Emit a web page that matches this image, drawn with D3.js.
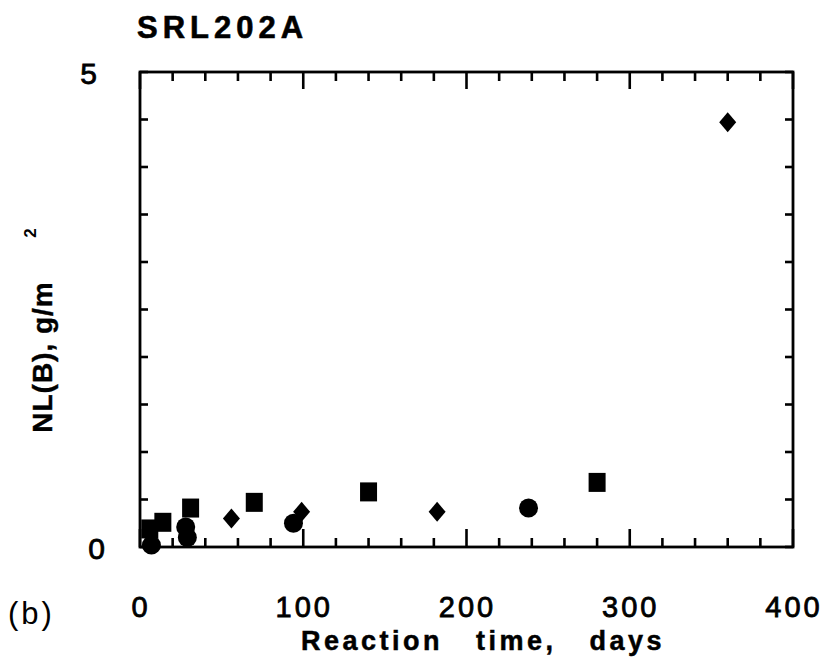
<!DOCTYPE html>
<html>
<head>
<meta charset="utf-8">
<script src="https://cdn.jsdelivr.net/npm/d3@7"></script>
<style>
  html, body { margin: 0; padding: 0; background: #fff; }
  text { font-family: "Liberation Sans", Arial, Helvetica, sans-serif; fill: #000; }
</style>
</head>
<body>
<svg id="chart" width="831" height="661"></svg>
<script>
// ---- data ----
const squareDays   = [6, 14, 31, 70, 140, 280];
const squareValues = [0.19, 0.26, 0.41, 0.47, 0.58, 0.68];
const diamondDays   = [56, 99, 182, 360];
const diamondValues = [0.30, 0.37, 0.37, 4.47];
const circleDays   = [7, 28, 29, 94, 238];
const circleValues = [0.02, 0.21, 0.10, 0.25, 0.41];
const xTickLabels = [0, 100, 200, 300, 400];
const yTickLabels = [0, 5];
const xMinorTicks = d3.range(0, 401, 20);
const yMinorTicks = d3.range(0, 5.01, 0.5);

const svg = d3.select("#chart");
const L = 140, R = 793, T = 72, B = 547;
const x = d3.scaleLinear().domain([0, 400]).range([L, R]);
const y = d3.scaleLinear().domain([0, 5]).range([B, T]);

const g = svg.append("g");

// frame
g.append("rect").attr("x", L).attr("y", T).attr("width", R - L).attr("height", B - T)
  .attr("fill", "none").attr("stroke", "#000").attr("stroke-width", 2.8);

// x ticks (bottom and top, inward)
const isMajorX = d => d % 100 === 0;
g.selectAll(".xb").data(xMinorTicks).join("line")
  .attr("x1", d => x(d)).attr("x2", d => x(d))
  .attr("y1", B).attr("y2", d => B - (isMajorX(d) ? 18 : 9))
  .attr("stroke", "#000").attr("stroke-width", 2.6);
g.selectAll(".xt").data(xMinorTicks).join("line")
  .attr("x1", d => x(d)).attr("x2", d => x(d))
  .attr("y1", T).attr("y2", d => T + (isMajorX(d) ? 17 : 9))
  .attr("stroke", "#000").attr("stroke-width", 2.6);

// y ticks (left and right, inward)
g.selectAll(".yl").data(yMinorTicks).join("line")
  .attr("x1", L).attr("x2", L + 8)
  .attr("y1", d => y(d)).attr("y2", d => y(d))
  .attr("stroke", "#000").attr("stroke-width", 2.6);
g.selectAll(".yr").data(yMinorTicks).join("line")
  .attr("x1", R).attr("x2", R - 8)
  .attr("y1", d => y(d)).attr("y2", d => y(d))
  .attr("stroke", "#000").attr("stroke-width", 2.6);

// tick labels
g.selectAll(".xl").data(xTickLabels).join("text")
  .attr("x", d => x(d) + 1).attr("y", 617)
  .attr("text-anchor", "middle").attr("font-size", 29).attr("letter-spacing", 3)
  .attr("stroke", "#000").attr("stroke-width", 0.8)
  .text(d => d);
g.selectAll(".ylab").data(yTickLabels).join("text")
  .attr("x", d => d === 5 ? 97 : 105).attr("y", d => y(d) + 12)
  .attr("text-anchor", "end").attr("font-size", 30)
  .attr("stroke", "#000").attr("stroke-width", 0.8)
  .text(d => d);

// markers
const ms = 8.5;
g.selectAll(".sq").data(squareDays.map((d, i) => [d, squareValues[i]])).join("rect")
  .attr("x", d => x(d[0]) - ms).attr("y", d => y(d[1]) - ms - 1)
  .attr("width", 2 * ms).attr("height", 2 * ms + 2)
  .attr("fill", "#000");
g.selectAll(".dm").data(diamondDays.map((d, i) => [d, diamondValues[i]])).join("path")
  .attr("d", d => {
    const cx = x(d[0]), cy = y(d[1]);
    return `M${cx},${cy - 10}L${cx + 8.5},${cy}L${cx},${cy + 10}L${cx - 8.5},${cy}Z`;
  })
  .attr("fill", "#000");
g.selectAll(".ci").data(circleDays.map((d, i) => [d, circleValues[i]])).join("circle")
  .attr("cx", d => x(d[0])).attr("cy", d => y(d[1])).attr("r", 9.5)
  .attr("fill", "#000");

// titles
svg.append("text").attr("x", 137).attr("y", 38)
  .attr("font-size", 31).attr("font-weight", "bold").attr("letter-spacing", 5)
  .attr("stroke", "#000").attr("stroke-width", 0.6)
  .text("SRL202A");
svg.append("text").attr("x", 483).attr("y", 650)
  .attr("text-anchor", "middle").attr("font-size", 27).attr("font-weight", "bold")
  .attr("letter-spacing", 3.5).attr("word-spacing", 22)
  .attr("stroke", "#000").attr("stroke-width", 0.5)
  .text("Reaction time, days");
svg.append("text").attr("x", 8).attr("y", 624)
  .attr("font-size", 31).attr("letter-spacing", 3)
  .text("(b)");
svg.append("text").attr("transform", "translate(52,357) rotate(-90)")
  .attr("text-anchor", "middle").attr("font-size", 28).attr("font-weight", "bold")
  .attr("letter-spacing", 1)
  .attr("stroke", "#000").attr("stroke-width", 0.4)
  .text("NL(B), g/m");
svg.append("text").attr("transform", "translate(36,233) rotate(-90)")
  .attr("text-anchor", "middle").attr("font-size", 17).attr("font-weight", "bold")
  .text("2");
</script>
</body>
</html>
